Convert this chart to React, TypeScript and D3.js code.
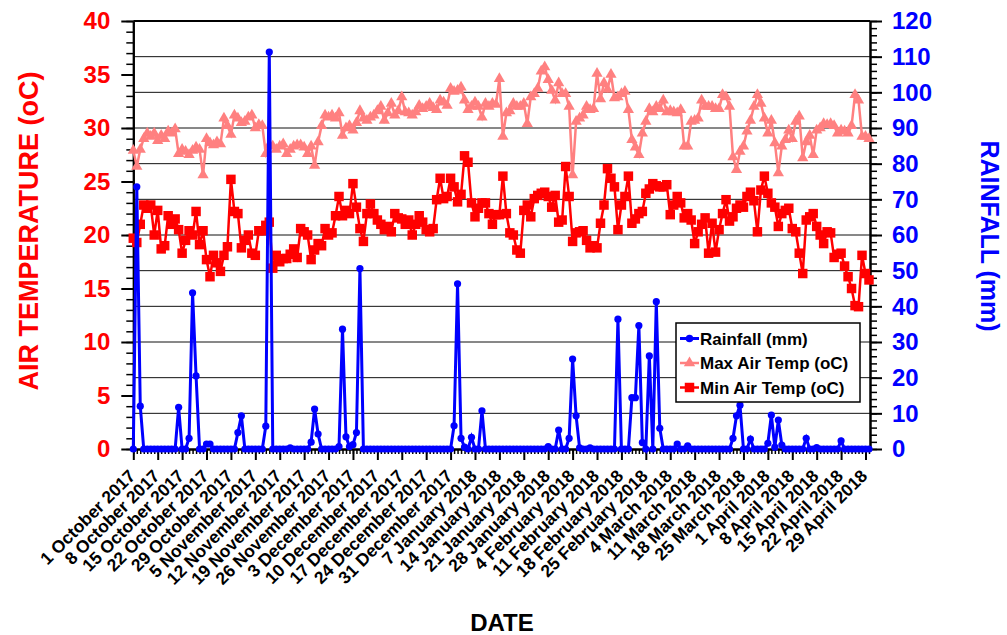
import React, { useEffect, useRef } from "react";
import * as d3 from "d3";

// daily records, 1 October 2017 .. 30 April 2018 (one row = one week)
const rainfall: number[] = [
  0, 73.5, 12.0, 0, 0, 0, 0,
  0, 0, 0, 0, 0, 0, 11.7,
  0, 0, 3.0, 43.8, 20.5, 0, 0,
  1.4, 1.4, 0, 0, 0, 0, 0,
  0, 0, 4.6, 9.3, 0, 0, 0,
  0, 0, 0, 6.4, 111.3, 0, 0,
  0, 0, 0, 0.3, 0, 0, 0,
  0, 0, 1.9, 11.2, 4.2, 0, 0,
  0, 0, 0, 0.7, 33.6, 3.4, 0.7,
  1.2, 4.6, 50.6, 0, 0, 0, 0,
  0, 0, 0, 0, 0, 0, 0,
  0, 0, 0, 0, 0, 0, 0,
  0, 0, 0, 0, 0, 0, 0,
  0, 6.5, 46.3, 3.0, 0.5, 0, 3.3,
  0, 0, 10.7, 0, 0, 0, 0,
  0, 0, 0, 0, 0, 0, 0,
  0, 0, 0, 0, 0, 0, 0,
  0.7, 0, 0, 5.3, 0, 0, 3.0,
  25.2, 9.3, 0.3, 0, 0, 0.3, 0,
  0, 0, 0, 0, 0, 0, 36.4,
  0, 0, 0, 14.4, 14.4, 34.6, 1.8,
  0, 26.1, 0, 41.3, 5.8, 0, 0,
  0, 0, 1.4, 0, 0, 0.9, 0,
  0, 0, 0, 0, 0, 0, 0,
  0, 0, 0, 0, 3.0, 9.3, 12.3,
  0, 0, 2.8, 0, 0, 0, 0,
  1.6, 9.5, 0.5, 8.1, 1.1, 0, 0,
  0, 0, 0, 0, 3.0, 0, 0,
  0.4, 0, 0, 0, 0, 0, 0,
  2.3, 0, 0, 0, 0, 0, 0,
  0, 0,
];

const maxTemp: number[] = [
  27.9, 26.4, 28.0, 29.0, 29.5, 29.2, 29.5,
  28.8, 29.3, 29.0, 29.7, 29.5, 29.9, 27.6,
  28.0, 27.8, 27.5, 27.9, 28.2, 28.0, 25.6,
  29.0, 28.6, 28.4, 28.7, 28.5, 30.9, 30.2,
  29.4, 31.2, 30.9, 30.5, 30.6, 31.0, 31.2,
  30.0, 30.3, 30.2, 27.6, 28.4, 28.3, 28.0,
  28.3, 28.5, 27.6, 28.0, 28.3, 28.4, 28.4,
  28.2, 27.6, 28.3, 26.5, 28.7, 30.2, 31.2,
  31.0, 31.2, 30.9, 31.4, 29.3, 30.0, 30.2,
  29.8, 30.5, 31.6, 30.9, 30.7, 31.0, 31.2,
  31.6, 32.0, 30.7, 31.4, 32.3, 31.2, 31.6,
  32.9, 31.5, 31.4, 31.2, 31.5, 32.1, 31.8,
  32.0, 32.3, 31.9, 31.7, 32.6, 32.4, 32.1,
  33.7, 33.4, 33.5, 33.8, 32.6, 31.7, 32.0,
  32.4, 32.0, 31.0, 32.3, 32.0, 32.3, 32.2,
  34.6, 29.2, 31.4, 31.6, 32.3, 32.0, 32.0,
  32.3, 30.4, 32.9, 33.2, 33.7, 35.3, 35.7,
  34.5, 33.5, 32.6, 34.2, 33.2, 33.2, 32.0,
  25.6, 30.6, 30.9, 31.2, 32.0, 31.7, 31.8,
  35.1, 32.7, 34.2, 33.6, 35.0, 32.8, 32.9,
  33.2, 33.4, 31.7, 28.9, 28.2, 27.5, 29.5,
  30.6, 31.8, 31.5, 32.0, 31.8, 32.6, 31.5,
  31.6, 31.5, 31.4, 31.7, 28.3, 28.3, 30.6,
  30.7, 30.9, 32.6, 32.0, 32.0, 32.0, 31.8,
  31.8, 33.1, 32.9, 32.0, 27.3, 26.1, 27.8,
  28.3, 29.7, 30.7, 32.0, 33.1, 32.3, 30.9,
  29.5, 30.7, 28.6, 25.8, 28.3, 28.9, 29.8,
  29.0, 30.6, 31.1, 27.2, 28.7, 29.3, 27.5,
  29.8, 30.0, 30.4, 30.3, 30.4, 30.2, 29.5,
  29.8, 29.7, 29.5, 30.2, 33.1, 32.6, 29.2,
  29.2, 29.0,
];

const minTemp: number[] = [
  19.7, 19.3, 21.0, 22.8, 22.5, 22.8, 20.0,
  22.3, 18.7, 19.0, 21.8, 21.0, 21.5, 20.5,
  18.3, 19.5, 20.4, 20.0, 22.2, 19.1, 20.4,
  17.7, 16.1, 18.1, 17.4, 16.6, 18.1, 18.9,
  25.2, 22.2, 22.0, 18.8, 19.5, 20.0, 18.3,
  18.1, 20.4, 20.4, 20.9, 21.2, 16.9, 18.1,
  17.5, 17.8, 17.8, 18.2, 18.7, 17.9, 20.6,
  20.3, 20.0, 17.7, 18.6, 19.2, 19.0, 20.6,
  20.0, 20.2, 21.8, 23.6, 21.8, 22.3, 22.0,
  24.8, 22.6, 20.6, 19.4, 22.0, 22.9, 22.0,
  21.4, 21.0, 20.5, 20.8, 20.3, 22.0, 21.6,
  21.5, 21.0, 21.4, 20.0, 21.0, 21.8, 21.2,
  20.5, 20.3, 20.6, 23.3, 25.3, 23.4, 23.6,
  25.3, 24.5, 23.1, 23.8, 27.4, 26.8, 23.0,
  21.7, 22.5, 23.0, 23.0, 22.0, 21.0, 21.9,
  21.9, 25.5, 22.0, 20.2, 20.0, 18.6, 18.3,
  22.3, 22.8, 21.7, 23.4, 23.7, 23.9, 24.0,
  23.6, 22.6, 23.7, 21.2, 21.4, 26.4, 23.6,
  19.4, 20.2, 20.3, 20.4, 19.5, 18.8, 19.0,
  18.8, 21.1, 22.8, 26.2, 25.3, 24.5, 20.5,
  22.8, 23.6, 25.5, 21.1, 21.5, 22.0, 22.2,
  23.9, 24.3, 24.8, 24.6, 24.5, 24.5, 24.7,
  21.9, 22.8, 23.6, 23.0, 21.6, 22.0, 21.4,
  19.2, 20.3, 21.0, 21.6, 18.3, 21.1, 18.4,
  20.5, 22.0, 23.3, 21.3, 21.7, 22.5, 22.8,
  22.6, 23.6, 24.0, 23.2, 20.3, 24.2, 25.5,
  23.9, 23.0, 22.6, 20.8, 22.0, 22.3, 22.5,
  20.6, 20.3, 18.3, 16.4, 21.4, 21.7, 22.0,
  20.8, 20.0, 19.2, 20.3, 20.2, 17.9, 18.2,
  18.3, 17.1, 16.1, 15.0, 13.4, 13.3, 18.1,
  16.4, 15.8,
];

const tickLabels: string[] = [
  "1 October 2017", "8 October 2017", "15 October 2017", "22 October 2017", "29 October 2017",
  "5 November 2017", "12 November 2017", "19 November 2017", "26 November 2017",
  "3 December 2017", "10 December 2017", "17 December 2017", "24 December 2017", "31 December 2017",
  "7 January 2018", "14 January 2018", "21 January 2018", "28 January 2018",
  "4 February 2018", "11 February 2018", "18 February 2018", "25 February 2018",
  "4 March 2018", "11 March 2018", "18 March 2018", "25 March 2018",
  "1 April 2018", "8 April 2018", "15 April 2018", "22 April 2018", "29 April 2018",
];

const legendLabels = ["Rainfall (mm)", "Max Air Temp (oC)", "Min Air Temp (oC)"];

const FONT = "'Liberation Sans', Arial, Helvetica, sans-serif";

export default function App() {
  const ref = useRef<SVGSVGElement>(null);

  useEffect(() => {
    const svg = d3.select(ref.current);
    svg.selectAll("*").remove();

    const start = new Date(Date.UTC(2017, 9, 1));
    const dates = rainfall.map((_, i) => d3.utcDay.offset(start, i));
    const tickDates = tickLabels.map((_, i) => d3.utcDay.offset(start, i * 7));

    const left = 133.3, right = 870, top = 21, bottom = 449;

    const x = d3.scaleUtc()
      .domain([start, d3.utcHour.offset(dates[dates.length - 1], 7)])
      .range([left, right]);
    const yT = d3.scaleLinear().domain([0, 40]).range([bottom, top]);
    const yR = d3.scaleLinear().domain([0, 120]).range([bottom, top]);

    // horizontal grid follows the rainfall axis
    svg.append("g")
      .selectAll("line")
      .data(d3.range(10, 120, 10))
      .join("line")
      .attr("x1", left).attr("x2", right)
      .attr("y1", d => yR(d)).attr("y2", d => yR(d))
      .attr("stroke", "#111")
      .attr("stroke-width", 1);

    // top frame
    svg.append("line")
      .attr("x1", left).attr("x2", right)
      .attr("y1", top).attr("y2", top)
      .attr("stroke", "#000").attr("stroke-width", 2);

    // left axis (temperature)
    const leftMinor = svg.append("g").attr("transform", `translate(${left},0)`)
      .call(d3.axisLeft(yT).tickValues(d3.range(0, 41, 1)).tickSize(7).tickSizeOuter(0).tickFormat(() => ""));
    const leftMajor = svg.append("g").attr("transform", `translate(${left},0)`)
      .call(d3.axisLeft(yT).tickValues(d3.range(0, 41, 5)).tickSize(12).tickSizeOuter(0).tickPadding(11));
    leftMajor.selectAll("text")
      .attr("fill", "#ff0000")
      .style("font", `bold 24px ${FONT}`);

    // right axis (rainfall)
    const rightMinor = svg.append("g").attr("transform", `translate(${right},0)`)
      .call(d3.axisRight(yR).tickValues(d3.range(0, 121, 2)).tickSize(7).tickSizeOuter(0).tickFormat(() => ""));
    const rightMajor = svg.append("g").attr("transform", `translate(${right},0)`)
      .call(d3.axisRight(yR).tickValues(d3.range(0, 121, 10)).tickSize(12).tickSizeOuter(0).tickPadding(10));
    rightMajor.selectAll("text")
      .attr("fill", "#0000ff")
      .style("font", `bold 24px ${FONT}`);

    // bottom axis: a tick per day, a long one per week
    const bottomMinor = svg.append("g").attr("transform", `translate(0,${bottom})`)
      .call(d3.axisBottom(x).tickValues(dates).tickSize(5).tickSizeOuter(0).tickFormat(() => ""));
    const bottomMajor = svg.append("g").attr("transform", `translate(0,${bottom})`)
      .call(d3.axisBottom(x).tickValues(tickDates).tickSize(11).tickSizeOuter(0).tickFormat(() => ""));

    [leftMinor, rightMinor, bottomMinor].forEach(g => {
      g.selectAll(".tick line").attr("stroke", "#000").attr("stroke-width", 1.5);
      g.select(".domain").attr("stroke", "#000").attr("stroke-width", 2);
    });
    [leftMajor, rightMajor, bottomMajor].forEach(g => {
      g.selectAll(".tick line").attr("stroke", "#000").attr("stroke-width", 2);
      g.select(".domain").attr("stroke", "#000").attr("stroke-width", 2);
    });

    // rotated date labels
    svg.append("g")
      .selectAll("text")
      .data(tickDates)
      .join("text")
      .attr("transform", (d) => `translate(${x(d) + 3},477) rotate(-45)`)
      .attr("text-anchor", "end")
      .style("font", `bold 17.5px ${FONT}`)
      .attr("fill", "#000")
      .text((_, i) => tickLabels[i]);

    // axis titles
    svg.append("text")
      .attr("x", 502).attr("y", 631)
      .attr("text-anchor", "middle")
      .style("font", `bold 24px ${FONT}`)
      .text("DATE");

    svg.append("text")
      .attr("transform", "translate(38,231) rotate(-90)")
      .attr("text-anchor", "middle")
      .attr("fill", "#ff0000")
      .style("font", `bold 27px ${FONT}`)
      .text("AIR TEMPERATURE (oC)");

    svg.append("text")
      .attr("transform", "translate(981,236) rotate(90)")
      .attr("text-anchor", "middle")
      .attr("fill", "#0000ff")
      .style("font", `bold 25px ${FONT}`)
      .text("RAINFALL (mm)");

    const tri = d3.symbol().type(d3.symbolTriangle).size(55);
    const sq = d3.symbol().type(d3.symbolSquare).size(90);

    // max air temp
    svg.append("path")
      .datum(maxTemp)
      .attr("fill", "none")
      .attr("stroke", "#ff8080")
      .attr("stroke-width", 2.5)
      .attr("d", d3.line<number>().x((_, i) => x(dates[i])).y(d => yT(d)));
    svg.append("g")
      .selectAll("path")
      .data(maxTemp)
      .join("path")
      .attr("transform", (d, i) => `translate(${x(dates[i])},${yT(d)})`)
      .attr("d", tri)
      .attr("fill", "#ff8080");

    // min air temp
    svg.append("path")
      .datum(minTemp)
      .attr("fill", "none")
      .attr("stroke", "#ff0000")
      .attr("stroke-width", 2.5)
      .attr("d", d3.line<number>().x((_, i) => x(dates[i])).y(d => yT(d)));
    svg.append("g")
      .selectAll("path")
      .data(minTemp)
      .join("path")
      .attr("transform", (d, i) => `translate(${x(dates[i])},${yT(d)})`)
      .attr("d", sq)
      .attr("fill", "#ff0000");

    // rainfall on top
    svg.append("path")
      .datum(rainfall)
      .attr("fill", "none")
      .attr("stroke", "#0000ff")
      .attr("stroke-width", 3)
      .attr("d", d3.line<number>().x((_, i) => x(dates[i])).y(d => yR(d)));
    svg.append("g")
      .selectAll("circle")
      .data(rainfall)
      .join("circle")
      .attr("cx", (_, i) => x(dates[i]))
      .attr("cy", d => yR(d))
      .attr("r", 3.6)
      .attr("fill", "#0000ff");

    // legend
    const lg = svg.append("g").attr("transform", "translate(676,323)");
    lg.append("rect")
      .attr("width", 184).attr("height", 79)
      .attr("fill", "#fff")
      .attr("stroke", "#000")
      .attr("stroke-width", 1.5);
    const colors = ["#0000ff", "#ff8080", "#ff0000"];
    const marks = [d3.symbol().type(d3.symbolCircle).size(45), tri, sq];
    legendLabels.forEach((label, i) => {
      const cy = 15.5 + i * 24.5;
      lg.append("line")
        .attr("x1", 4).attr("x2", 23)
        .attr("y1", cy).attr("y2", cy)
        .attr("stroke", colors[i]).attr("stroke-width", i === 0 ? 3 : 2.5);
      lg.append("path")
        .attr("transform", `translate(13.5,${cy})`)
        .attr("d", marks[i])
        .attr("fill", colors[i]);
      lg.append("text")
        .attr("x", 24).attr("y", cy + 6)
        .style("font", `bold 17px ${FONT}`)
        .attr("fill", "#000")
        .text(label);
    });
  }, []);

  return (
    <svg
      ref={ref}
      width={1007}
      height={635}
      style={{ position: "absolute", left: 0, top: 0, background: "#fff" }}
    />
  );
}
